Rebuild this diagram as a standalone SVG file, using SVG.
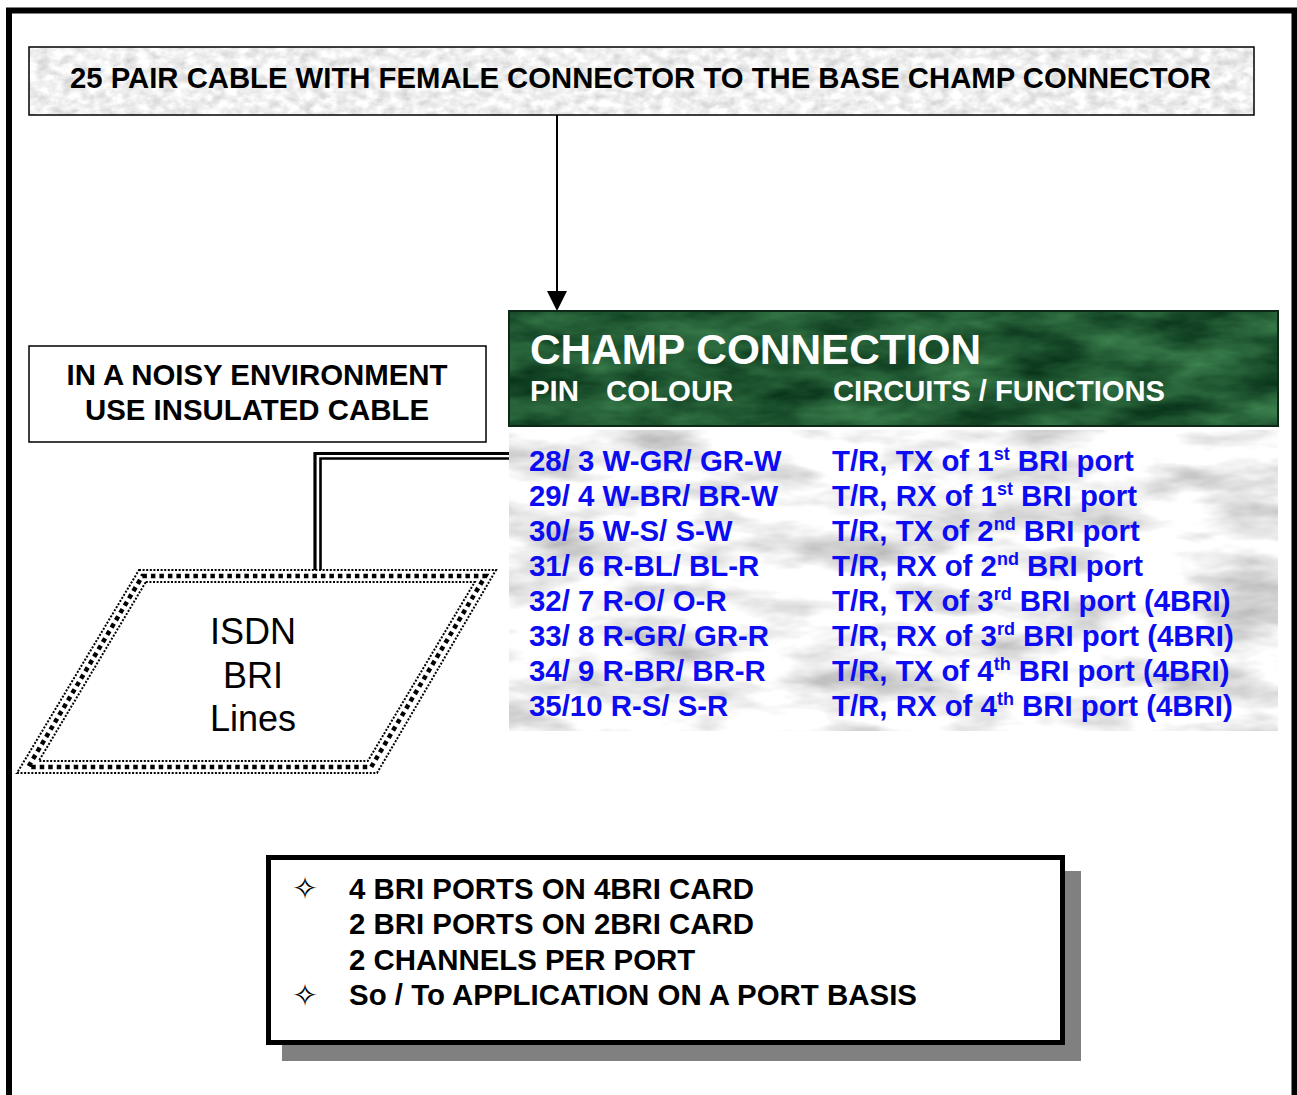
<svg xmlns="http://www.w3.org/2000/svg" width="1297" height="1095" viewBox="0 0 1297 1095">
<style>
.b{font-family:"Liberation Sans",Arial,sans-serif;font-weight:bold;font-size:29.4px}
.k{fill:#000}
.w{fill:#fff}
.bl{fill:#0c0cf2}
.sup{font-size:18px}
.r{font-family:"Liberation Sans",Arial,sans-serif;font-size:36px;fill:#000}
.star{font-family:"DejaVu Sans",sans-serif;font-size:31px;fill:#000}
filter{color-interpolation-filters:sRGB}
</style>
<defs>
<filter id="grayTex" x="0" y="0" width="1" height="1" color-interpolation-filters="sRGB">
<feTurbulence type="fractalNoise" baseFrequency="0.08 0.12" numOctaves="3" seed="4"/>
<feColorMatrix type="matrix" values="0.3 0 0 0 0.79  0.3 0 0 0 0.79  0.3 0 0 0 0.79  0 0 0 0 1"/>
</filter>
<filter id="greenTex" x="0" y="0" width="1" height="1" color-interpolation-filters="sRGB">
<feTurbulence type="fractalNoise" baseFrequency="0.012 0.035" numOctaves="4" seed="7"/>
<feColorMatrix type="matrix" values="0.32 0 0 0 -0.03  0.48 0 0 0 0.11  0.32 0 0 0 0.04  0 0 0 0 1"/>
</filter>
<filter id="marbleTex" x="0" y="0" width="1" height="1" color-interpolation-filters="sRGB">
<feTurbulence type="fractalNoise" baseFrequency="0.01 0.03" numOctaves="4" seed="11"/>
<feColorMatrix type="matrix" values="0.6 0 0 0 0.66  0.6 0 0 0 0.66  0.6 0 0 0 0.66  0 0 0 0 1"/>
</filter>
</defs>

<rect width="1297" height="1095" fill="#fff"/>
<rect x="9" y="10.5" width="1285.5" height="1200" fill="none" stroke="#000" stroke-width="6"/>

<g id="connectors" fill="none" stroke="#000">
<line x1="557" y1="115" x2="557" y2="292" stroke-width="2"/>
<path d="M547,291 L567,291 L557,311 Z" fill="#000" stroke="none"/>
<path d="M510,453.5 H315 V577" stroke-width="3.2"/>
<path d="M510,458.5 H320.5 V577" stroke-width="2.6"/>
</g>

<g id="title-box">
<rect x="29" y="47" width="1225" height="68" filter="url(#grayTex)"/>
<rect x="29" y="47" width="1225" height="68" fill="none" stroke="#000" stroke-width="1.5"/>
<text class="b k" x="70" y="87.5" textLength="1141" lengthAdjust="spacingAndGlyphs">25 PAIR CABLE WITH FEMALE CONNECTOR TO THE BASE CHAMP CONNECTOR</text>
</g>

<g id="champ-header">
<rect x="509" y="311" width="769" height="115" filter="url(#greenTex)"/>
<rect x="509" y="311" width="769" height="115" fill="none" stroke="#0e2a16" stroke-width="2"/>
<text class="b w" x="530" y="363.5" style="font-size:42px" textLength="451" lengthAdjust="spacingAndGlyphs">CHAMP CONNECTION</text>
<text class="b w" x="530" y="401">PIN</text>
<text class="b w" x="606" y="401">COLOUR</text>
<text class="b w" x="833" y="401" textLength="332" lengthAdjust="spacingAndGlyphs">CIRCUITS / FUNCTIONS</text>
</g>

<g id="champ-table">
<rect x="509" y="430" width="769" height="301" filter="url(#marbleTex)"/>
<g class="b bl">
<text x="529" y="471">28/ 3 W-GR/ GR-W</text>
<text x="529" y="506">29/ 4 W-BR/ BR-W</text>
<text x="529" y="541">30/ 5 W-S/ S-W</text>
<text x="529" y="576">31/ 6 R-BL/ BL-R</text>
<text x="529" y="611">32/ 7 R-O/ O-R</text>
<text x="529" y="646">33/ 8 R-GR/ GR-R</text>
<text x="529" y="681">34/ 9 R-BR/ BR-R</text>
<text x="529" y="716">35/10 R-S/ S-R</text>
<text x="832" y="471">T/R, TX of 1<tspan class="sup" dy="-11">st</tspan><tspan dy="11"> BRI port</tspan></text>
<text x="832" y="506">T/R, RX of 1<tspan class="sup" dy="-11">st</tspan><tspan dy="11"> BRI port</tspan></text>
<text x="832" y="541">T/R, TX of 2<tspan class="sup" dy="-11">nd</tspan><tspan dy="11"> BRI port</tspan></text>
<text x="832" y="576">T/R, RX of 2<tspan class="sup" dy="-11">nd</tspan><tspan dy="11"> BRI port</tspan></text>
<text x="832" y="611">T/R, TX of 3<tspan class="sup" dy="-11">rd</tspan><tspan dy="11"> BRI port (4BRI)</tspan></text>
<text x="832" y="646">T/R, RX of 3<tspan class="sup" dy="-11">rd</tspan><tspan dy="11"> BRI port (4BRI)</tspan></text>
<text x="832" y="681">T/R, TX of 4<tspan class="sup" dy="-11">th</tspan><tspan dy="11"> BRI port (4BRI)</tspan></text>
<text x="832" y="716">T/R, RX of 4<tspan class="sup" dy="-11">th</tspan><tspan dy="11"> BRI port (4BRI)</tspan></text>
</g>
</g>

<g id="noise-note">
<rect x="29" y="346" width="457" height="96" fill="#fff" stroke="#000" stroke-width="1.5"/>
<text class="b k" x="257" y="385" text-anchor="middle">IN A NOISY ENVIRONMENT</text>
<text class="b k" x="257" y="420" text-anchor="middle">USE INSULATED CABLE</text>
</g>

<g id="isdn-lines">
<polygon points="139,570 496,570 377,773 17,773" fill="#fff" stroke="#000" stroke-width="2" stroke-dasharray="2,1.6"/>
<polygon points="142.4,576 485.4,576 371.2,767 28.2,767" fill="none" stroke="#000" stroke-width="4.5" stroke-dasharray="4.5,4"/>
<polygon points="145.8,582 474.8,582 367.8,761 38.8,761" fill="none" stroke="#000" stroke-width="2" stroke-dasharray="2,1.6"/>
<text class="r" x="253" y="644" text-anchor="middle">ISDN</text>
<text class="r" x="253" y="688" text-anchor="middle">BRI</text>
<text class="r" x="253" y="731" text-anchor="middle">Lines</text>
</g>

<g id="bri-summary">
<rect x="282" y="871" width="799" height="190" fill="#808080"/>
<rect x="268.5" y="857.5" width="794" height="185" fill="#fff" stroke="#000" stroke-width="5"/>
<text class="star" x="292" y="899">✧</text>
<text class="star" x="292" y="1006">✧</text>
<text class="b k" x="349" y="899">4 BRI PORTS ON 4BRI CARD</text>
<text class="b k" x="349" y="934">2 BRI PORTS ON 2BRI CARD</text>
<text class="b k" x="349" y="970">2 CHANNELS PER PORT</text>
<text class="b k" x="349" y="1005" textLength="568" lengthAdjust="spacingAndGlyphs">So / To APPLICATION ON A PORT BASIS</text>
</g>
</svg>
